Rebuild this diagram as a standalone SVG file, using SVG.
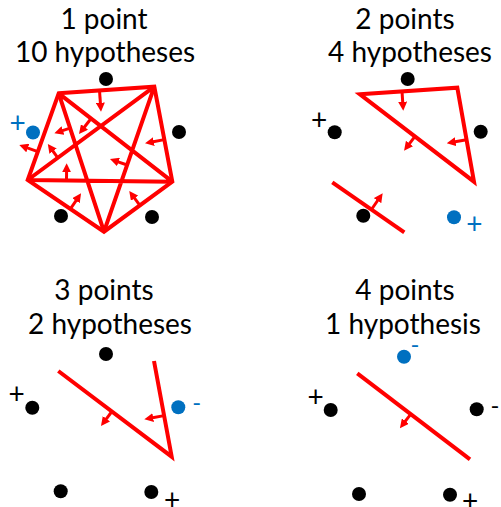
<svg xmlns="http://www.w3.org/2000/svg" width="501" height="507" viewBox="0 0 501 507">
<style>
.t{font-family:Lato,"Liberation Sans",sans-serif;font-size:28px;fill:#000;text-anchor:middle}
.s{font-family:Lato,"Liberation Sans",sans-serif;font-size:28px;text-anchor:middle}
.m{font-family:Lato,"Liberation Sans",sans-serif;font-size:24px;text-anchor:middle}
.k{fill:#000}.b{fill:#0070C0}
.h{stroke:#FF0000;stroke-width:4;fill:none;stroke-linejoin:miter;stroke-linecap:butt}
.a{stroke:#FF0000;stroke-width:3;fill:none;marker-end:url(#ah)}
</style>
<defs>
<marker id="ah" viewBox="0 0 9 9" refX="2" refY="4.5" markerWidth="9" markerHeight="9" markerUnits="userSpaceOnUse" orient="auto">
<path d="M0,0 L9,4.5 L0,9 z" fill="#FF0000"/>
</marker>
</defs>
<rect width="501" height="507" fill="#fff"/>

<g id="panel1">
<text class="t" x="104" y="29">1 point</text>
<text class="t" x="105" y="62">10 hypotheses</text>
<g id="p1-points">
<circle class="k" cx="106" cy="79" r="7"/>
<circle class="k" cx="179" cy="132" r="7"/>
<circle class="b" cx="33" cy="132.5" r="7"/>
<circle class="k" cx="61" cy="216" r="7"/>
<circle class="k" cx="152" cy="217" r="7"/>
<text class="s b" x="17.5" y="132.5">+</text>
</g>
<g id="p1-hypotheses">
<path class="h" d="M58.7,93.3 L154.3,86.7 L172.3,181.7 L104,231.7 L27.7,180 Z"/>
<path class="h" d="M58.7,93.3 L172.3,181.7 M58.7,93.3 L104,231.7 M154.3,86.7 L104,231.7 M154.3,86.7 L27.7,180 M172.3,181.7 L27.7,180"/>
<line class="a" x1="99.5" y1="90.4" x2="100.5" y2="104.7"/>
<line class="a" x1="91.1" y1="118.5" x2="83.3" y2="128.5"/>
<line class="a" x1="70.1" y1="128.1" x2="61" y2="131.1"/>
<line class="a" x1="37.8" y1="151.6" x2="25.9" y2="147.4"/>
<line class="a" x1="57.8" y1="157.8" x2="51.9" y2="149.6"/>
<line class="a" x1="66.5" y1="180.5" x2="66.6" y2="170.3"/>
<line class="a" x1="127.2" y1="165" x2="116.6" y2="161.3"/>
<line class="a" x1="164.3" y1="139.6" x2="151.9" y2="142"/>
<line class="a" x1="139.9" y1="205.4" x2="133.4" y2="196.6"/>
<line class="a" x1="70.4" y1="208.9" x2="77.1" y2="199.1"/>
</g>
</g>

<g id="panel2">
<text class="t" x="405" y="29">2 points</text>
<text class="t" x="410" y="62">4 hypotheses</text>
<g id="p2-points">
<circle class="k" cx="407.7" cy="79" r="7"/>
<circle class="k" cx="334.7" cy="132.3" r="7"/>
<circle class="k" cx="480.7" cy="131.7" r="7"/>
<circle class="k" cx="363.3" cy="215.7" r="7"/>
<circle class="b" cx="454" cy="217.3" r="7"/>
<text class="s k" x="319" y="129.5">+</text>
<text class="s b" x="474.3" y="233.5">+</text>
</g>
<g id="p2-hypotheses">
<path class="h" d="M360,94.3 L457.3,87.7 L474,181.7 Z"/>
<line class="h" x1="332.3" y1="182.3" x2="404.3" y2="232.3"/>
<line class="a" x1="402" y1="91.4" x2="402.8" y2="103.7"/>
<line class="a" x1="415" y1="136.4" x2="408.3" y2="145.1"/>
<line class="a" x1="466.6" y1="139.8" x2="453.6" y2="142.1"/>
<line class="a" x1="371.5" y1="209.5" x2="378.7" y2="199"/>
</g>
</g>

<g id="panel3">
<text class="t" x="104" y="300">3 points</text>
<text class="t" x="110" y="334">2 hypotheses</text>
<g id="p3-points">
<circle class="k" cx="106" cy="354" r="7"/>
<circle class="k" cx="32.3" cy="407.7" r="7"/>
<circle class="b" cx="178.3" cy="407.3" r="7"/>
<circle class="k" cx="60.7" cy="491.3" r="7"/>
<circle class="k" cx="151.3" cy="492" r="7"/>
<text class="s k" x="16.7" y="403.8">+</text>
<text class="m b" x="196.7" y="411">-</text>
<text class="s k" x="172" y="509.5">+</text>
</g>
<g id="p3-hypotheses">
<path class="h" d="M58.3,371 L171.7,456.7 L154,361"/>
<line class="a" x1="111.9" y1="411.5" x2="105.2" y2="420.4"/>
<line class="a" x1="164.1" y1="415.6" x2="151.2" y2="418"/>
</g>
</g>

<g id="panel4">
<text class="t" x="405" y="300">4 points</text>
<text class="t" x="403" y="334">1 hypothesis</text>
<g id="p4-points">
<circle class="b" cx="404" cy="356.7" r="7"/>
<circle class="k" cx="330.7" cy="410" r="7"/>
<circle class="k" cx="476.7" cy="409.3" r="7"/>
<circle class="k" cx="359" cy="494" r="7"/>
<circle class="k" cx="450" cy="494.7" r="7"/>
<text class="m b" x="415" y="352.5">-</text>
<text class="s k" x="315.7" y="407.2">+</text>
<text class="m k" x="495" y="413.5">-</text>
<text class="s k" x="470" y="510.5">+</text>
</g>
<g id="p4-hypotheses">
<line class="h" x1="357.3" y1="373.3" x2="470" y2="459.3"/>
<line class="a" x1="410.8" y1="414.2" x2="404.2" y2="422.7"/>
</g>
</g>
</svg>
